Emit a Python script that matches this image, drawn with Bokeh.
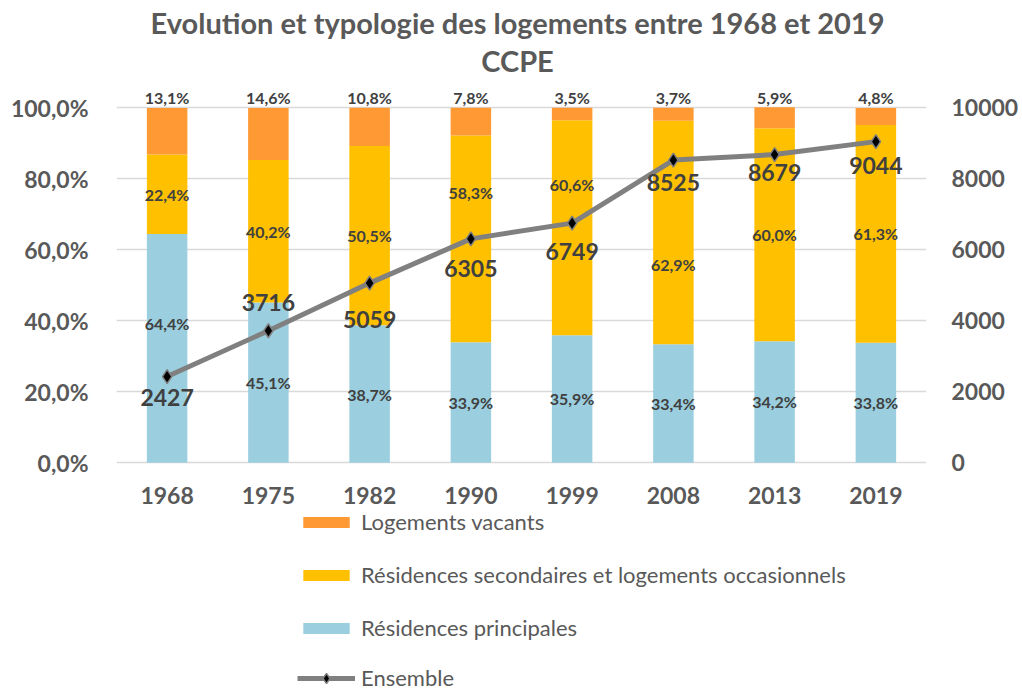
from bokeh.plotting import figure
from bokeh.models import (ColumnDataSource, FactorRange, Range1d, LinearAxis, FixedTicker,
                          LabelSet, Label, Legend, LegendItem)
from bokeh.embed import file_html
from bokeh.resources import INLINE
from bokeh.core.properties import value

title_lines = ["Evolution et typologie des logements entre 1968 et 2019", "CCPE"]
years = ["1968", "1975", "1982", "1990", "1999", "2008", "2013", "2019"]
res_principales = [64.4, 45.1, 38.7, 33.9, 35.9, 33.4, 34.2, 33.8]
res_secondaires = [22.4, 40.2, 50.5, 58.3, 60.6, 62.9, 60.0, 61.3]
log_vacants = [13.1, 14.6, 10.8, 7.8, 3.5, 3.7, 5.9, 4.8]
ensemble = [2427, 3716, 5059, 6305, 6749, 8525, 8679, 9044]
pct_ticks = [0, 20, 40, 60, 80, 100]
count_ticks = [0, 2000, 4000, 6000, 8000, 10000]

# label offsets (px, style only)
ens_offsets = [-21, 28, -36, -30, -28, -22, -18, -24]
rp_offsets = [25, 0, 0, 0, 0, 0, 0, 0]
rs_offsets = [0, 0, 0, 46, 43, -32, 0, 0]

FONT = "Lato"
TXT = "#595959"
LBL = "#404040"
C_RP = "#9BCFDF"
C_RS = "#FFC000"
C_LV = "#FF9933"


def fr(v):
    return f"{v:.1f}".replace(".", ",") + "%"


src = ColumnDataSource(dict(
    year=years,
    rp=res_principales,
    rs=res_secondaires,
    lv=log_vacants,
    ens=ensemble,
    zero=[0 for _ in years],
    rp_y=[a / 2 for a in res_principales],
    rs_y=[a + b / 2 for a, b in zip(res_principales, res_secondaires)],
    lv_y=[100 for _ in years],
    rp_t=[fr(v) for v in res_principales],
    rs_t=[fr(v) for v in res_secondaires],
    lv_t=[fr(v) for v in log_vacants],
    ens_t=[str(v) for v in ensemble],
    ens_off=ens_offsets,
    rp_off=rp_offsets,
    rs_off=rs_offsets,
))

# The frame spans the whole figure height so that title, category labels and legend sit inside it
PX_PER_PCT = 3.55
FRAME_H = 691
TOP_PAD_PX = 107.2         # pixels between frame top and the 100 % line
Y_TOP = 100 + TOP_PAD_PX / PX_PER_PCT
Y_BOT = Y_TOP - FRAME_H / PX_PER_PCT

p = figure(x_range=FactorRange(*years, range_padding=0), y_range=Range1d(Y_BOT, Y_TOP),
           x_axis_type=None,
           frame_width=810, frame_height=FRAME_H, output_backend="svg", toolbar_location=None,
           min_border_left=116, min_border_right=96, min_border_top=0, min_border_bottom=0)
p.outline_line_color = None
p.background_fill_color = "white"
p.border_fill_color = "white"

p.extra_y_ranges = {"right": Range1d(Y_BOT * 100, Y_TOP * 100)}

# title (two centred lines)
for txt, off in zip(title_lines, [85, 47]):
    p.add_layout(Label(x=len(years) / 2, y=100, x_offset=-4, y_offset=off, text=txt,
                       text_font=FONT, text_font_size="29px", text_font_style="bold",
                       text_color=TXT, text_align="center", text_baseline="middle"))

bars = p.vbar_stack(["rp", "rs", "lv"], x="year", width=0.4, source=src,
                    color=[C_RP, C_RS, C_LV], line_color=None)

line = p.line("year", "ens", source=src, y_range_name="right", line_color="#808080", line_width=5)
pts = p.scatter("year", "ens", source=src, y_range_name="right", marker="diamond", size=14,
                fill_color="black", line_color="#808080", line_width=1.5)

# axes
p.yaxis.ticker = FixedTicker(ticks=pct_ticks)
p.yaxis.major_label_overrides = {t: f"{t:.1f}".replace(".", ",") + "%" for t in pct_ticks}
ax_r = LinearAxis(y_range_name="right", ticker=FixedTicker(ticks=count_ticks))
p.add_layout(ax_r, "right")

for ax in [p.yaxis[0], ax_r]:
    ax.axis_line_color = None
    ax.major_tick_line_color = None
    ax.minor_tick_line_color = None
    ax.major_label_text_font = FONT
    ax.major_label_text_font_size = "23px"
    ax.major_label_text_font_style = "bold"
    ax.major_label_text_color = TXT
p.yaxis[0].major_label_standoff = 22
ax_r.major_label_standoff = 19

p.xgrid.grid_line_color = None
p.ygrid.grid_line_color = "#D9D9D9"
p.ygrid.grid_line_width = 1.5
p.ygrid.ticker = FixedTicker(ticks=pct_ticks)

# category labels (x axis)
p.add_layout(LabelSet(x="year", y="zero", text="year", y_offset=-33, source=src,
                      text_font=value(FONT), text_font_size="23px", text_font_style="bold",
                      text_color=TXT, text_align="center", text_baseline="middle"))

common = dict(source=src, text_font=value(FONT), text_font_size="16px", text_font_style="bold",
              text_color=LBL, text_align="center", text_baseline="middle")
p.add_layout(LabelSet(x="year", y="rp_y", text="rp_t", y_offset="rp_off", **common))
p.add_layout(LabelSet(x="year", y="rs_y", text="rs_t", y_offset="rs_off", **common))
p.add_layout(LabelSet(x="year", y="lv_y", text="lv_t", y_offset=10, **common))
p.add_layout(LabelSet(x="year", y="ens", text="ens_t", y_range_name="right", y_offset="ens_off",
                      source=src, text_font=value(FONT), text_font_size="23px",
                      text_font_style="bold", text_color=LBL, text_align="center",
                      text_baseline="middle"))

leg_style = dict(orientation="vertical", border_line_color=None, background_fill_alpha=0,
                 label_text_font=FONT, label_text_font_size="22px", label_text_color=TXT,
                 glyph_width=58, label_height=26, label_standoff=6, spacing=26,
                 padding=0, margin=0)
legend1 = Legend(items=[
    LegendItem(label="Logements vacants", renderers=[bars[2]]),
    LegendItem(label="Résidences secondaires et logements occasionnels", renderers=[bars[1]]),
    LegendItem(label="Résidences principales", renderers=[bars[0]]),
], location=(181, 50), glyph_height=14, **leg_style)
legend2 = Legend(items=[LegendItem(label="Ensemble", renderers=[line, pts])],
                 location=(181, 0), glyph_height=26, **leg_style)
p.add_layout(legend1, "center")
p.add_layout(legend2, "center")

html = file_html(p, INLINE)
with open("out.html", "w") as f:
    f.write(html)
